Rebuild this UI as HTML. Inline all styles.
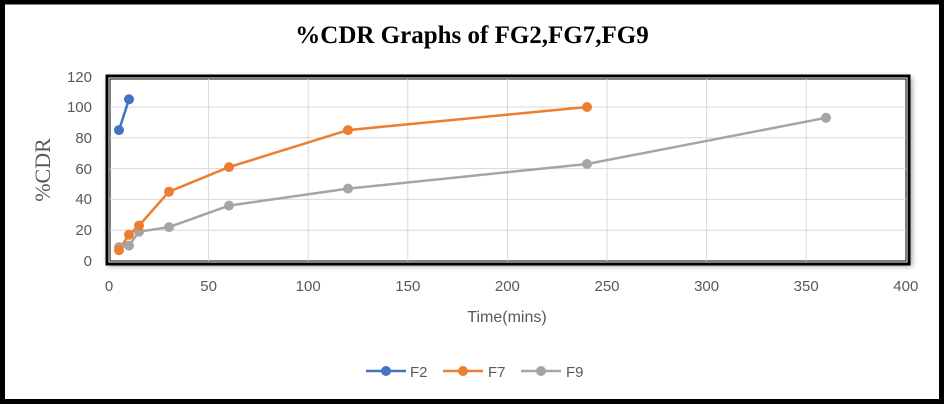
<!DOCTYPE html>
<html><head><style>
body{margin:0;width:945px;height:404px;overflow:hidden;background:#fff}
</style></head><body>
<svg width="945" height="404" xmlns="http://www.w3.org/2000/svg" font-family="Liberation Sans, sans-serif">
<rect x="2.5" y="2" width="939" height="399.5" fill="#fff" stroke="#000" stroke-width="5"/>
<text x="472" y="43" text-anchor="middle" font-family="Liberation Serif, serif" font-weight="bold" font-size="25" fill="#000">%CDR Graphs  of FG2,FG7,FG9</text>
<defs><filter id="sh" x="-5%" y="-10%" width="110%" height="120%"><feGaussianBlur stdDeviation="3"/></filter></defs>
<rect x="108" y="78" width="804" height="188" fill="#999" filter="url(#sh)"/>
<rect x="107" y="76" width="802" height="188" fill="#fff" stroke="#000" stroke-width="3"/>
<rect x="110" y="79" width="796" height="182" fill="none" stroke="#000" stroke-width="1"/>
<g stroke="#d9d9d9" stroke-width="1">
<line x1="110" x2="906" y1="230.2" y2="230.2"/><line x1="110" x2="906" y1="199.4" y2="199.4"/>
<line x1="110" x2="906" y1="168.6" y2="168.6"/><line x1="110" x2="906" y1="137.8" y2="137.8"/>
<line x1="110" x2="906" y1="107" y2="107"/>
<line y1="79" y2="261" x1="208.6" x2="208.6"/><line y1="79" y2="261" x1="308.2" x2="308.2"/>
<line y1="79" y2="261" x1="407.8" x2="407.8"/><line y1="79" y2="261" x1="507.4" x2="507.4"/>
<line y1="79" y2="261" x1="607" x2="607" /><line y1="79" y2="261" x1="706.6" x2="706.6"/>
<line y1="79" y2="261" x1="806.2" x2="806.2"/>
</g>
<g font-size="15" fill="#595959" text-anchor="end">
<text x="92" y="266">0</text><text x="92" y="235">20</text><text x="92" y="204">40</text>
<text x="92" y="174">60</text><text x="92" y="143">80</text><text x="92" y="112">100</text><text x="92" y="82">120</text>
</g>
<g font-size="15" fill="#595959" text-anchor="middle">
<text x="109" y="291">0</text><text x="208.6" y="291">50</text><text x="308.2" y="291">100</text>
<text x="407.8" y="291">150</text><text x="507.4" y="291">200</text><text x="607" y="291">250</text>
<text x="706.6" y="291">300</text><text x="806.2" y="291">350</text><text x="905.8" y="291">400</text>
<text x="507" y="322" font-size="16">Time(mins)</text>
</g>
<text transform="translate(50,170) rotate(-90)" text-anchor="middle" font-family="Liberation Serif, serif" font-size="22" fill="#595959">%CDR</text>
<!-- x: 109 + 1.992*t ; y: 261 - 1.54*v -->
<g stroke-width="2.5" fill="none">
<polyline stroke="#a5a5a5" points="119,247.1 129,245.6 139,231.7 169,227.1 229,205.6 348,188.6 587,164 826,117.8"/>
<polyline stroke="#ed7d31" points="119,250.2 129,234.8 139,225.6 169,191.7 229,167.1 348,130.1 587,107"/>
<polyline stroke="#4472c4" points="119,130.1 129,99.3"/>
</g>
<g fill="#a5a5a5"><circle cx="119" cy="247.1" r="5"/><circle cx="129" cy="245.6" r="5"/><circle cx="139" cy="231.7" r="5"/><circle cx="169" cy="227.1" r="5"/><circle cx="229" cy="205.6" r="5"/><circle cx="348" cy="188.6" r="5"/><circle cx="587" cy="164" r="5"/><circle cx="826" cy="117.8" r="5"/></g>
<g fill="#ed7d31"><circle cx="119" cy="250.2" r="5"/><circle cx="129" cy="234.8" r="5"/><circle cx="139" cy="225.6" r="5"/><circle cx="169" cy="191.7" r="5"/><circle cx="229" cy="167.1" r="5"/><circle cx="348" cy="130.1" r="5"/><circle cx="587" cy="107" r="5"/></g>
<g fill="#4472c4"><circle cx="119" cy="130.1" r="5"/><circle cx="129" cy="99.3" r="5"/></g>
<g stroke-width="2.5">
<line x1="366" x2="406" y1="371" y2="371" stroke="#4472c4"/><circle cx="386" cy="371" r="5" fill="#4472c4"/>
<line x1="443" x2="483" y1="371" y2="371" stroke="#ed7d31"/><circle cx="463" cy="371" r="5" fill="#ed7d31"/>
<line x1="521" x2="561" y1="371" y2="371" stroke="#a5a5a5"/><circle cx="541" cy="371" r="5" fill="#a5a5a5"/>
</g>
<g font-size="15" fill="#595959"><text x="410" y="377">F2</text><text x="488" y="377">F7</text><text x="566" y="377">F9</text></g>
</svg>
</body></html>
